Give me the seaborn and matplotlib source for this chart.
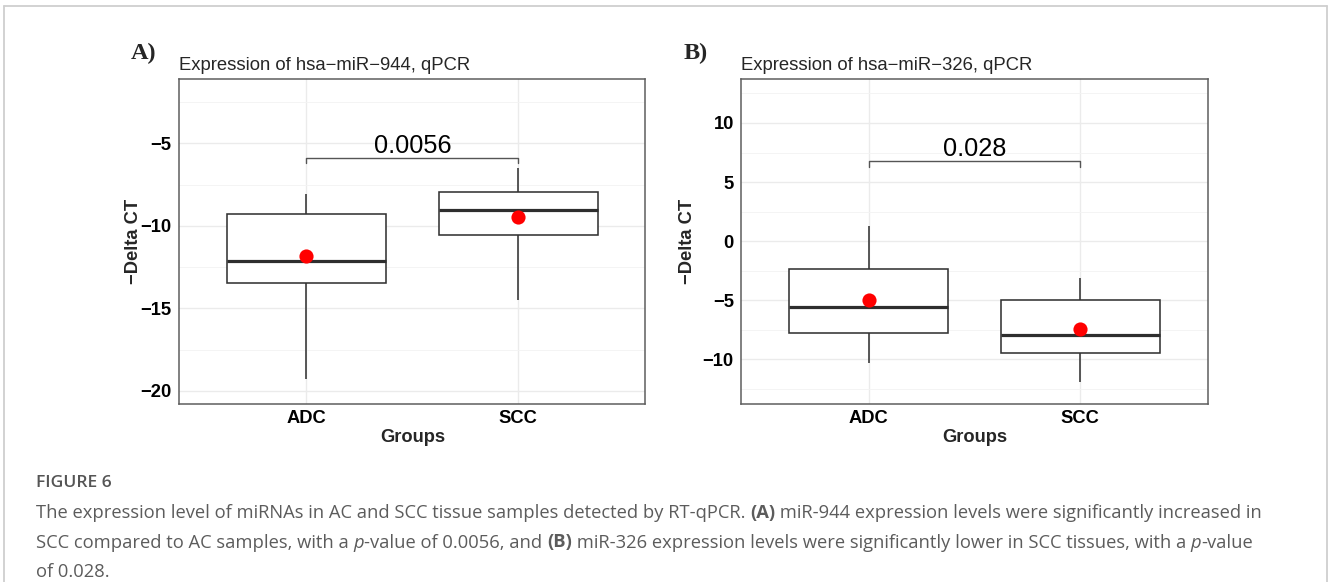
import numpy as np
import pandas as pd
import matplotlib
matplotlib.use("Agg")
import matplotlib.pyplot as plt
from matplotlib.lines import Line2D
from matplotlib.ticker import MultipleLocator
import seaborn as sns

# ---------------- data ----------------
groups = ["ADC", "SCC"]
# five-number summaries: lower whisker, Q1, median, Q3, upper whisker
mir944_adc = [-19.26, -13.46, -12.11, -9.27, -8.06]
mir944_scc = [-14.50, -10.57, -9.03, -7.94, -6.50]
mir944_means = [-11.85, -9.48]
mir326_adc = [-10.30, -7.80, -5.52, -2.37, 1.25]
mir326_scc = [-11.90, -9.41, -7.92, -4.93, -3.15]
mir326_means = [-4.95, -7.44]
p_values = ["0.0056", "0.028"]
bracket_top = [-5.92, 6.79]
bracket_tip = [-6.22, 6.28]
titles = ["Expression of hsa\u2212miR\u2212944, qPCR", "Expression of hsa\u2212miR\u2212326, qPCR"]
panel_tags = ["A)", "B)"]
ylims = [(-20.82, -1.12), (-13.78, 13.75)]
caption_head = "FIGURE 6"

sns.set_style("white")
plt.rcParams["font.family"] = ["Liberation Sans", "DejaVu Sans"]
plt.rcParams["axes.unicode_minus"] = True

W, H = 1328, 582
fig = plt.figure(figsize=(W / 100, H / 100), dpi=100)

def fx(px):
    return px / W

def fy(py):
    return 1 - py / H

axes_boxes = [(179.3, 79.3, 645.4, 404.3), (741.4, 78.6, 1207.5, 404.2)]
summaries = [(mir944_adc, mir944_scc), (mir326_adc, mir326_scc)]
means = [mir944_means, mir326_means]
tag_x = [130.5, 684.0]

for i in range(2):
    l, t, r, b = axes_boxes[i]
    ax = fig.add_axes([fx(l), fy(b), (r - l) / W, (b - t) / H])
    a_vals, s_vals = summaries[i]
    df = pd.DataFrame({
        "Groups": [groups[0]] * len(a_vals) + [groups[1]] * len(s_vals),
        "value": list(a_vals) + list(s_vals),
    })
    ax.set_axisbelow(True)
    sns.boxplot(data=df, x="Groups", y="value", order=groups, ax=ax,
                width=0.75, whis=(0, 100), color="white", saturation=1,
                linecolor="#333333", linewidth=1.15, showcaps=False,
                showfliers=False, medianprops={"linewidth": 2.3, "color": "#2e2e2e"})
    sns.stripplot(x=groups, y=means[i], order=groups, jitter=False, color="red",
                  size=10.2, linewidth=0, ax=ax, zorder=6)
    # significance bracket
    bx = [0, 0, len(groups) - 1, len(groups) - 1]
    ax.plot(bx, [bracket_tip[i], bracket_top[i], bracket_top[i], bracket_tip[i]],
            color="#555555", lw=1.0, zorder=4)
    ax.text((len(groups) - 1) / 2, bracket_top[i], p_values[i], ha="center",
            va="bottom", fontsize=18.3, color="black")
    ax.set_xlim(-0.6, 1.6)
    ax.set_ylim(*ylims[i])
    ax.yaxis.set_major_locator(MultipleLocator(5))
    ax.yaxis.set_minor_locator(MultipleLocator(2.5))
    ax.grid(True, which="major", color="#EBEBEB", lw=1.0)
    ax.grid(True, which="minor", axis="y", color="#F3F3F3", lw=0.6)
    for sp in ax.spines.values():
        sp.set_visible(True)
        sp.set_color("#5e5e5e")
        sp.set_linewidth(1.1)
    ax.tick_params(axis="both", which="major", length=3, width=0.9, color="#444444",
                   labelsize=13.2, pad=2.5)
    ax.tick_params(axis="x", which="major", pad=1.0)
    ax.tick_params(axis="both", which="minor", length=0)
    for lab in ax.get_xticklabels() + ax.get_yticklabels():
        lab.set_fontweight("bold")
        lab.set_color("black")
    ax.set_xlabel("Groups", fontsize=13.2, fontweight="bold")
    ax.xaxis.set_label_coords(0.5, -(437 - b) / (b - t))
    ax.xaxis.label.set_va("center")
    ax.set_ylabel("\u2212Delta CT", fontsize=13.2, fontweight="bold")
    ax.yaxis.label.set(ha="center", va="center", rotation_mode="default")
    ax.yaxis.set_label_coords(-(l - (tag_x[i] + 3.5)) / (r - l), 0.5)
    ax.set_title(titles[i], loc="left", fontsize=13.3, pad=6.5)
    fig.text(fx(tag_x[i]), fy(59.5), panel_tags[i], fontsize=17.5, fontweight="bold",
             family=["Liberation Serif", "DejaVu Serif"], va="baseline", ha="left")

# outer frame
fig.add_artist(Line2D([fx(4.3), fx(4.3)], [fy(6.3), 0], transform=fig.transFigure,
                      color="#cfcfcf", lw=1.3))
fig.add_artist(Line2D([fx(4.3), fx(1327.2)], [fy(6.3), fy(6.3)], transform=fig.transFigure,
                      color="#cfcfcf", lw=1.3))
fig.add_artist(Line2D([fx(1327.2), fx(1327.2)], [fy(6.3), 0], transform=fig.transFigure,
                      color="#cfcfcf", lw=1.3))

# ---------------- caption ----------------
cap_font = ["Open Sans", "DejaVu Sans"]
cap_color = "#5c5c5c"
line1 = [("The expression level of miRNAs in AC and SCC tissue samples detected by RT-qPCR. ", {}),
         ("(A)", {"fontweight": "bold"}),
         (" miR-944 expression levels were significantly increased in", {})]
line2 = [("SCC compared to AC samples, with a ", {}), ("p", {"style": "italic"}),
         ("-value of 0.0056, and ", {}), ("(B)", {"fontweight": "bold"}),
         (" miR-326 expression levels were significantly lower in SCC tissues, with a ", {}),
         ("p", {"style": "italic"}), ("-value", {})]
line3 = [("of 0.028.", {})]

fig.canvas.draw()
renderer = fig.canvas.get_renderer()

def draw_runs(x0, ybase, runs, size, measure_only=False):
    x = x0
    arts = []
    for txt, kw in runs:
        t = fig.text(fx(x), fy(ybase), txt, fontsize=size, color=cap_color,
                     family=cap_font, va="baseline", ha="left", **kw)
        bb = t.get_window_extent(renderer)
        x += bb.width
        arts.append(t)
    if measure_only:
        for a in arts:
            a.remove()
    return x - x0

base = 10.0
w = draw_runs(36, 520, line1, base, measure_only=True)
size = base * 1230.0 / w
draw_runs(36, 518, line1, size)
draw_runs(36, 547.5, line2, size)
draw_runs(36, 577, line3, size)
fig.text(fx(36), fy(487), caption_head, fontsize=size * 0.95, color="#555555",
         family=cap_font, fontweight="semibold", va="baseline", ha="left")

fig.savefig("out.png", dpi=100)
